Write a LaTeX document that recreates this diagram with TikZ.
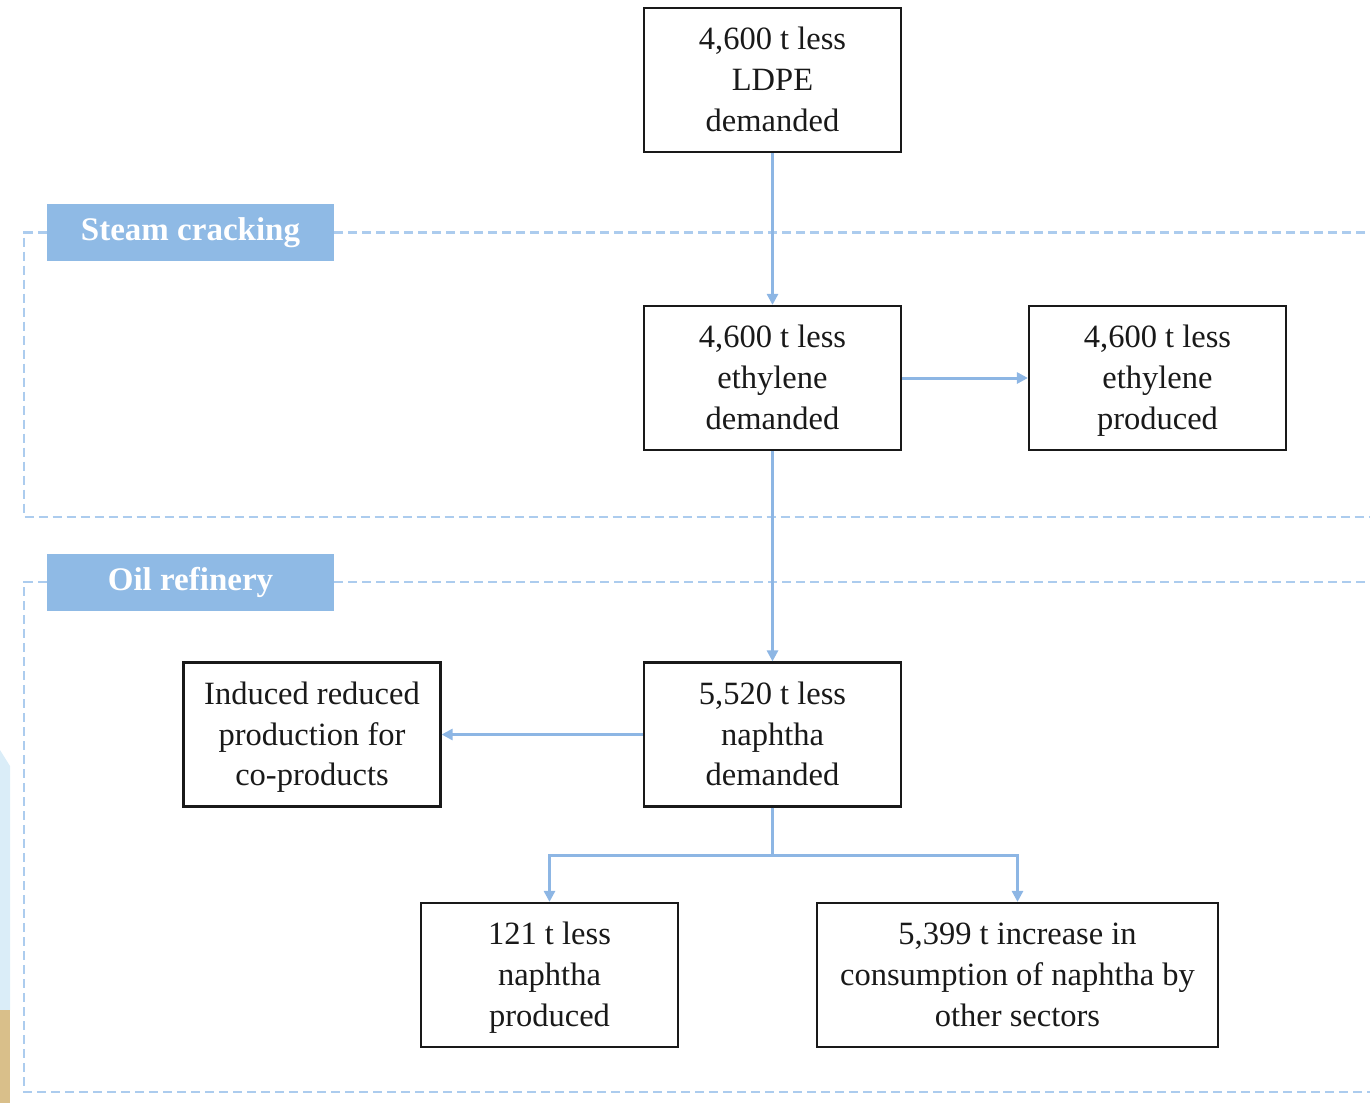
\documentclass[tikz,border=0pt]{standalone}
\usepackage{fontspec}
\setmainfont{Liberation Serif}
\usetikzlibrary{arrows.meta}
\definecolor{flow}{RGB}{141,182,228}
\definecolor{zone}{RGB}{172,204,238}
\definecolor{tagfill}{RGB}{143,186,229}
\definecolor{edgeblue}{RGB}{218,237,248}
\definecolor{edgetan}{RGB}{217,191,138}
\definecolor{ink}{RGB}{25,25,25}
% three centred lines with fixed top and bottom struts
\newcommand{\lines}[3]{\rule{0pt}{28pt}#1\\#2\\#3\rule[-7pt]{0pt}{7pt}}
\begin{document}
\begin{tikzpicture}[x=1pt,y=-1pt,
  stepbox/.style={draw=ink, line width=2.2pt, minimum width=257pt, minimum height=144pt,
    align=center, inner sep=0pt, text=ink, font=\fontsize{32.5}{40.8}\selectfont},
  flowline/.style={draw=flow, line width=3pt, -{Triangle[length=11pt,width=11pt]}},
  zoneline/.style={draw=zone, line width=2.2pt, dash pattern=on 9pt off 5pt},
  tag/.style={fill=tagfill, draw=none, minimum width=287pt, minimum height=57pt,
    inner sep=0pt, text=white, font=\fontsize{33}{36}\selectfont\bfseries}
]
\useasboundingbox (0,0) rectangle (1370,1103);

% strips along the left edge
\fill[edgeblue] (0,750) -- (10,766) -- (10,1010) -- (0,1010) -- cycle;
\fill[edgetan] (0,1010) rectangle (10,1103);

% process zones
\node[tag] (steam) at (190.5,232.5) {Steam cracking};
\node[tag] (oil) at (190.5,582) {Oil refinery};
\draw[zoneline] (steam.west) -- (24,232.5) -- (24,517) -- (1372,517);
\draw[zoneline] (steam.east) -- (1372,232.5);
\draw[zoneline] (oil.west) -- (24,582) -- (24,1092) -- (1372,1092);
\draw[zoneline] (oil.east) -- (1372,582);

% steps
\node[stepbox] (ldpe) at (772.5,80) {\lines{4,600 t less}{LDPE}{demanded}};
\node[stepbox] (ethd) at (772.5,378) {\lines{4,600 t less}{ethylene}{demanded}};
\node[stepbox] (ethp) at (1157.5,378) {\lines{4,600 t less}{ethylene}{produced}};
\node[stepbox] (naphd) at (772.5,734.5) {\lines{5,520 t less}{naphtha}{demanded}};
\node[stepbox] (coprod) at (312,734.5) {\lines{Induced reduced}{production for}{co-products}};
\node[stepbox] (naphp) at (549.5,975) {\lines{121 t less}{naphtha}{produced}};
\node[stepbox, minimum width=401pt] (cons) at (1017.5,975) {\lines{5,399 t increase in}{consumption of naphtha by}{other sectors}};

% flows
\draw[flowline] (ldpe) -- (ethd);
\draw[flowline] (ethd) -- (ethp);
\draw[flowline] (ethd) -- (naphd);
\draw[flowline] (naphd) -- (coprod);
\coordinate (split) at (772.5,855);
\draw[flowline] (naphd.south) -- (split) -| (naphp.north);
\draw[flowline] (split) -| (cons.north);
\end{tikzpicture}
\end{document}
